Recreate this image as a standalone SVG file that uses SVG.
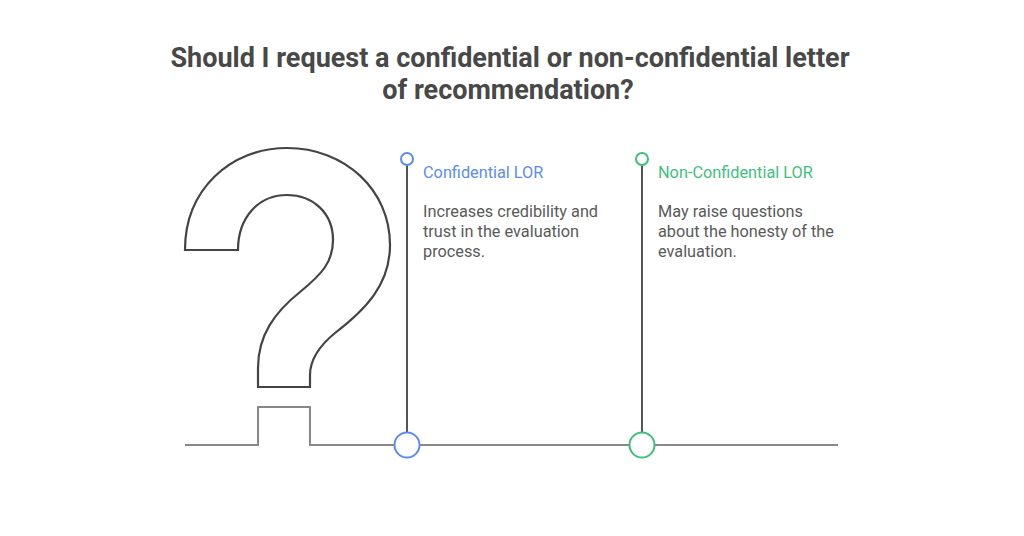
<svg xmlns="http://www.w3.org/2000/svg" width="1024" height="536" viewBox="0 0 1024 536">
<style>
.title{font-family:Roboto,"Liberation Sans",sans-serif;font-weight:bold;font-size:27px;fill:#484848;text-anchor:middle}
.head{font-family:Roboto,"Liberation Sans",sans-serif;font-size:16.3px}
.desc{font-family:Roboto,"Liberation Sans",sans-serif;font-size:16.3px;fill:#5a5a5a}
.stem{stroke:#555;stroke-width:2}
</style>
<rect width="1024" height="536" fill="#fff"/>
<text class="title" x="510" y="67">Should I request a confidential or non-confidential letter</text>
<text class="title" x="508" y="99">of recommendation?</text>
<g id="connectors">
<path d="M185 445 H258 V407 H310 V445 H838" fill="none" stroke="#888" stroke-width="2"/>
</g>
<g id="question">
<path d="M185 250 C185 190 230 148 287 148 C345 148 390 190 390 245 C390 285 365 310 335 333 C318 347 310 360 310 375 L310 387 L258 387 L258 368 C258 335 275 312 300 292 C322 274 333 262 333 240 C333 213 313 195 287 195 C258 195 238 218 238 250 Z" fill="#fff" stroke="#444" stroke-width="2.2"/>
</g>
<g id="confidential">
<line class="stem" x1="407" y1="165" x2="407" y2="432"/>
<circle cx="407" cy="159" r="6" fill="#fff" stroke="#5b8def" stroke-width="2"/>
<circle cx="407" cy="445" r="12.5" fill="#fff" stroke="#5b8def" stroke-width="2"/>
<text class="head" x="423" y="178" fill="#5b8def">Confidential LOR</text>
<text class="desc" x="423" y="217">Increases credibility and</text>
<text class="desc" x="423" y="237">trust in the evaluation</text>
<text class="desc" x="423" y="257">process.</text>
</g>
<g id="nonconfidential">
<line class="stem" x1="642" y1="165" x2="642" y2="432"/>
<circle cx="642" cy="159" r="6" fill="#fff" stroke="#3fbf7f" stroke-width="2"/>
<circle cx="642" cy="445" r="12.5" fill="#fff" stroke="#3fbf7f" stroke-width="2"/>
<text class="head" x="658" y="178" fill="#3fbf7f">Non-Confidential LOR</text>
<text class="desc" x="658" y="217">May raise questions</text>
<text class="desc" x="658" y="237">about the honesty of the</text>
<text class="desc" x="658" y="257">evaluation.</text>
</g>
</svg>
